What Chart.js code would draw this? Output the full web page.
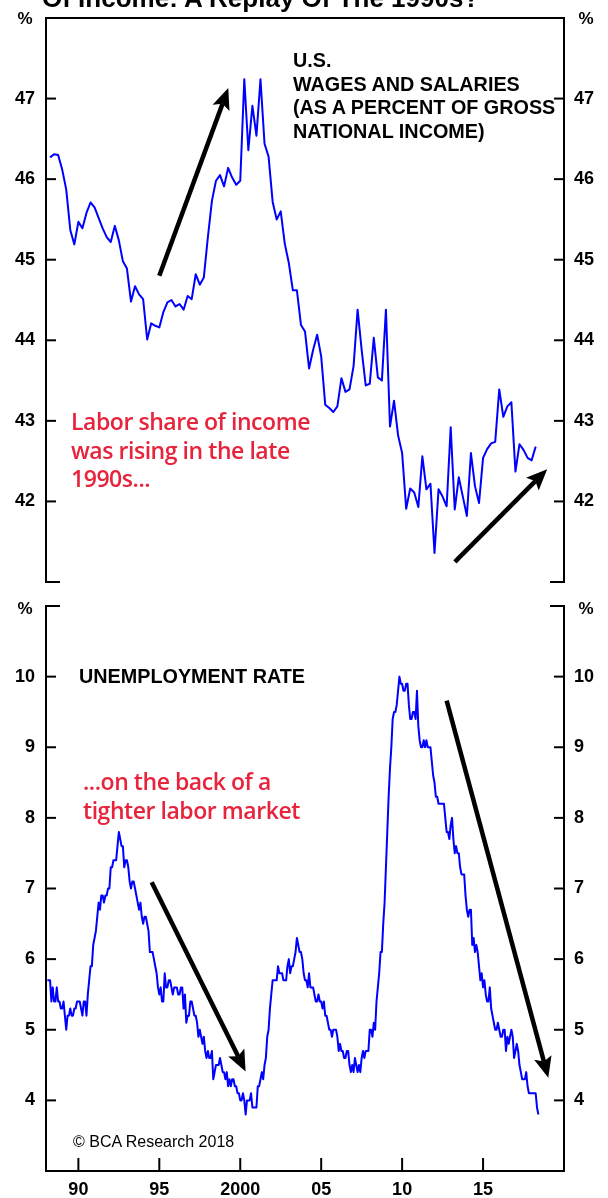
<!DOCTYPE html>
<html><head><meta charset="utf-8">
<script src="https://cdn.jsdelivr.net/npm/chart.js@4.4.1/dist/chart.umd.min.js"></script>
<style>
html,body{margin:0;padding:0;background:#fff;}
#wrap{position:relative;width:608px;height:1198px;overflow:hidden;background:#fff;}
canvas{position:absolute;left:0;}
.t{position:absolute;white-space:nowrap;color:#000;font-family:'Liberation Sans',Arial,sans-serif;}
.b{font-weight:bold;}
.cap{font-size:19.8px;line-height:23.5px;font-weight:bold;}
.pct{font-size:17px;line-height:20px;font-weight:bold;width:30px;text-align:center;}
.red{color:#e8233c;font-family:'Open Sans',sans-serif;font-weight:600;font-size:23px;line-height:28.5px;letter-spacing:-0.45px;}
</style></head><body>
<div id="wrap">
<canvas id="topChart" width="608" height="590" style="top:0"></canvas>
<canvas id="botChart" width="608" height="608" style="top:590px"></canvas>

<div class="t b" style="left:42px;top:-15px;font-size:26px;line-height:26px;">Of Income: A Replay Of The 1990s?</div>

<div class="t pct" style="left:10px;top:9px;">%</div>
<div class="t pct" style="left:571px;top:9px;">%</div>
<div class="t pct" style="left:10px;top:599px;">%</div>
<div class="t pct" style="left:571px;top:599px;">%</div>

<div class="t cap" style="left:293px;top:49px;">U.S.<br>WAGES AND SALARIES<br>(AS A PERCENT OF GROSS<br>NATIONAL INCOME)</div>
<div class="t cap" style="left:79px;top:665px;">UNEMPLOYMENT RATE</div>

<div class="t red" style="left:71px;top:407px;">Labor share of income<br>was rising in the late<br>1990s...</div>
<div class="t red" style="left:83px;top:767px;">...on the back of a<br>tighter labor market</div>

<div class="t" style="left:73px;top:1133px;font-size:16px;line-height:18px;">© BCA Research 2018</div>
</div>

<script>
// ---- axes ----
const xMin = 1988, xMax = 2020;
const xTickYears = [1990, 1995, 2000, 2005, 2010, 2015];
const xTickLabels = ['90', '95', '2000', '05', '10', '15'];
const wageRange = [41, 48];
const wageTicks = [42, 43, 44, 45, 46, 47];
const unempRange = [3, 11];
const unempTicks = [4, 5, 6, 7, 8, 9, 10];

// ---- wages & salaries as % of GNI, quarterly from 1988Q1 ----
const wageFirstYear = 1988;
const wageShare = [
  46.27, 46.31, 46.30, 46.12,
  45.87, 45.37, 45.19, 45.47,
  45.39, 45.58, 45.71, 45.65,
  45.52, 45.39, 45.28, 45.22,
  45.42, 45.24, 44.98, 44.89,
  44.48, 44.67, 44.57, 44.51,
  44.01, 44.21, 44.18, 44.16,
  44.35, 44.47, 44.50, 44.42,
  44.45, 44.38, 44.55, 44.51,
  44.82, 44.69, 44.78, 45.28,
  45.73, 45.98, 46.05, 45.91,
  46.14, 46.02, 45.93, 45.98,
  47.24, 46.36, 46.91, 46.54,
  47.24, 46.44, 46.28, 45.72,
  45.50, 45.60, 45.20, 44.96,
  44.62, 44.62, 44.19, 44.11,
  43.65, 43.88, 44.07, 43.80,
  43.20, 43.16, 43.11, 43.18,
  43.53, 43.36, 43.39, 43.68,
  44.38, 43.88, 43.44, 43.46,
  44.03, 43.54, 43.50, 44.38,
  42.93, 43.25, 42.82, 42.60,
  41.91, 42.16, 42.11, 41.93,
  42.56, 42.15, 42.22, 41.36,
  42.15, 42.06, 41.94, 42.92,
  41.90, 42.30, 42.06, 41.82,
  42.60, 42.19, 41.98, 42.54,
  42.65, 42.72, 42.74, 43.39,
  43.05, 43.18, 43.23, 42.37,
  42.71, 42.64, 42.54, 42.51,
  42.68
];

// ---- unemployment rate, monthly from January 1988 ----
const unempFirstYear = 1988;
const unemploymentRate = [
  5.7,5.7,5.7,5.4,5.6,5.4,5.4,5.6,5.4,5.4,5.3,5.3,
  5.4,5.2,5.0,5.2,5.2,5.3,5.2,5.2,5.3,5.3,5.4,5.4,
  5.4,5.3,5.2,5.4,5.4,5.2,5.5,5.7,5.9,5.9,6.2,6.3,
  6.4,6.6,6.8,6.7,6.9,6.9,6.8,6.9,6.9,7.0,7.0,7.3,
  7.3,7.4,7.4,7.4,7.6,7.8,7.7,7.6,7.6,7.3,7.4,7.4,
  7.3,7.1,7.0,7.1,7.1,7.0,6.9,6.8,6.7,6.8,6.6,6.5,
  6.6,6.6,6.5,6.4,6.1,6.1,6.1,6.0,5.9,5.8,5.6,5.5,
  5.6,5.4,5.4,5.8,5.6,5.6,5.7,5.7,5.6,5.5,5.6,5.6,
  5.6,5.5,5.5,5.6,5.6,5.3,5.5,5.1,5.2,5.2,5.4,5.4,
  5.3,5.2,5.2,5.1,4.9,5.0,4.9,4.8,4.9,4.7,4.6,4.7,
  4.6,4.6,4.7,4.3,4.4,4.5,4.5,4.5,4.6,4.5,4.4,4.4,
  4.3,4.4,4.2,4.3,4.2,4.3,4.3,4.2,4.2,4.1,4.1,4.0,
  4.0,4.1,4.0,3.8,4.0,4.0,4.0,4.1,3.9,3.9,3.9,3.9,
  4.2,4.2,4.3,4.4,4.3,4.5,4.6,4.9,5.0,5.3,5.5,5.7,
  5.7,5.7,5.7,5.9,5.8,5.8,5.8,5.7,5.7,5.7,5.9,6.0,
  5.8,5.9,5.9,6.0,6.1,6.3,6.2,6.1,6.1,6.0,5.8,5.7,
  5.7,5.6,5.8,5.6,5.6,5.6,5.5,5.4,5.4,5.5,5.4,5.4,
  5.3,5.4,5.2,5.2,5.1,5.0,5.0,4.9,5.0,5.0,5.0,4.9,
  4.7,4.8,4.7,4.7,4.6,4.6,4.7,4.7,4.5,4.4,4.5,4.4,
  4.6,4.5,4.4,4.5,4.4,4.6,4.7,4.6,4.7,4.7,4.7,5.0,
  5.0,4.9,5.1,5.0,5.4,5.6,5.8,6.1,6.1,6.5,6.8,7.3,
  7.8,8.3,8.7,9.0,9.4,9.5,9.5,9.6,9.8,10.0,9.9,9.9,
  9.8,9.8,9.9,9.9,9.6,9.4,9.4,9.5,9.5,9.4,9.8,9.3,
  9.1,9.0,9.0,9.1,9.0,9.1,9.0,9.0,9.0,8.8,8.6,8.5,
  8.3,8.3,8.2,8.2,8.2,8.2,8.2,8.0,7.8,7.8,7.7,7.9,
  8.0,7.7,7.5,7.6,7.5,7.5,7.3,7.2,7.2,7.2,6.9,6.7,
  6.6,6.7,6.7,6.2,6.3,6.1,6.2,6.1,5.9,5.7,5.8,5.6,
  5.7,5.5,5.4,5.4,5.6,5.3,5.2,5.1,5.0,5.0,5.1,5.0,
  4.9,4.9,5.0,5.0,4.7,4.9,4.8,4.9,5.0,4.9,4.6,4.7,
  4.8,4.7,4.5,4.4,4.3,4.3,4.3,4.4,4.2,4.1,4.1,4.1,
  4.1,4.1,4.1,3.9,3.8
];

// ---- annotation arrows (data coordinates: from x,y to x,y) ----
const wageArrows = [[1995.0, 44.80, 1999.26, 47.13], [2013.26, 41.25, 2018.96, 42.40]];
const unempArrows = [[1994.53, 7.09, 2000.33, 4.41], [2012.75, 9.66, 2019.03, 4.32]];

const wagePoints = wageShare.map((v, i) => ({x: wageFirstYear + (i + 1) / 4, y: v}));
const unempPoints = unemploymentRate.map((v, i) => ({x: unempFirstYear + (i + 1) / 12, y: v}));

const FONT = "'Liberation Sans', Arial, sans-serif";

function yScale(pos, range, ticks, width, pad) {
  return {
    type: 'linear', position: pos, min: range[0], max: range[1],
    afterBuildTicks: s => { s.ticks = ticks.map(v => ({value: v})); },
    afterFit: s => { s.width = width; s.paddingTop = 0; s.paddingBottom = 0; },
    grid: {display: false, drawTicks: false},
    border: {display: false},
    ticks: {color: '#000', padding: pad, font: {family: FONT, weight: 'bold', size: 18}, callback: v => String(v)}
  };
}

function makeFrame(cfg) {
  return {
    id: 'frame_' + cfg.name,
    afterDatasetsDraw(chart) {
      const {ctx, chartArea: a, scales} = chart;
      ctx.save();
      ctx.strokeStyle = '#000';
      ctx.fillStyle = '#000';
      ctx.lineWidth = 2;
      ctx.lineCap = 'butt';
      const line = (x1, y1, x2, y2) => { ctx.beginPath(); ctx.moveTo(x1, y1); ctx.lineTo(x2, y2); ctx.stroke(); };
      line(a.left, a.top - 1, a.left, a.bottom + 1);
      line(a.right, a.top - 1, a.right, a.bottom + 1);
      const stub = 14;
      if (cfg.topFull) line(a.left - 1, a.top, a.right + 1, a.top);
      else { line(a.left - 1, a.top, a.left + stub, a.top); line(a.right - stub, a.top, a.right + 1, a.top); }
      if (cfg.bottomFull) line(a.left - 1, a.bottom, a.right + 1, a.bottom);
      else { line(a.left - 1, a.bottom, a.left + stub, a.bottom); line(a.right - stub, a.bottom, a.right + 1, a.bottom); }
      cfg.yTicks.forEach(v => {
        const y = scales.y.getPixelForValue(v);
        line(a.left, y, a.left + 10, y);
        line(a.right - 10, y, a.right, y);
      });
      if (cfg.xTicks) cfg.xTicks.forEach(v => {
        const x = scales.x.getPixelForValue(v);
        line(x, a.bottom, x, a.bottom - 13);
      });
      cfg.arrows.forEach(([x1, y1, x2, y2]) => {
        const p1x = scales.x.getPixelForValue(x1), p1y = scales.y.getPixelForValue(y1);
        const p2x = scales.x.getPixelForValue(x2), p2y = scales.y.getPixelForValue(y2);
        const ang = Math.atan2(p2y - p1y, p2x - p1x);
        const c = Math.cos(ang), s = Math.sin(ang);
        const hl = 21, hw = 9;
        const bx = p2x - hl * c, by = p2y - hl * s;
        const nx = p2x - hl * 0.8 * c, ny = p2y - hl * 0.8 * s;
        ctx.lineWidth = 4.5;
        line(p1x, p1y, nx, ny);
        ctx.beginPath();
        ctx.moveTo(p2x, p2y);
        ctx.lineTo(bx + hw * s, by - hw * c);
        ctx.lineTo(nx, ny);
        ctx.lineTo(bx - hw * s, by + hw * c);
        ctx.closePath();
        ctx.fill();
      });
      ctx.restore();
    }
  };
}

const lineStyle = {borderColor: '#0000ff', borderWidth: 2, pointRadius: 0, fill: false, tension: 0, borderJoinStyle: 'round'};

new Chart(document.getElementById('topChart'), {
  type: 'line',
  data: {datasets: [Object.assign({data: wagePoints, yAxisID: 'y'}, lineStyle)]},
  options: {
    responsive: false, animation: false, devicePixelRatio: 1,
    layout: {padding: {top: 18, bottom: 8, left: 0, right: 0}},
    plugins: {legend: {display: false}, tooltip: {enabled: false}},
    scales: {
      x: {type: 'linear', min: xMin, max: xMax, display: false},
      y: yScale('left', wageRange, wageTicks, 46, 11),
      y2: yScale('right', wageRange, wageTicks, 44, 10)
    }
  },
  plugins: [makeFrame({name: 'top', topFull: true, bottomFull: false, yTicks: wageTicks, xTicks: null, arrows: wageArrows})]
});

new Chart(document.getElementById('botChart'), {
  type: 'line',
  data: {datasets: [Object.assign({data: unempPoints, yAxisID: 'y'}, lineStyle)]},
  options: {
    responsive: false, animation: false, devicePixelRatio: 1,
    layout: {padding: {top: 16, bottom: 0, left: 0, right: 0}},
    plugins: {legend: {display: false}, tooltip: {enabled: false}},
    scales: {
      x: {
        type: 'linear', min: xMin, max: xMax, position: 'bottom',
        afterBuildTicks: s => { s.ticks = xTickYears.map(v => ({value: v})); },
        afterFit: s => { s.height = 27; s.paddingLeft = 0; s.paddingRight = 0; },
        grid: {display: false, drawTicks: false},
        border: {display: false},
        ticks: {color: '#000', padding: 8, maxRotation: 0, autoSkip: false,
          font: {family: FONT, weight: 'bold', size: 18},
          callback: (v, i) => xTickLabels[i]}
      },
      y: yScale('left', unempRange, unempTicks, 46, 11),
      y2: yScale('right', unempRange, unempTicks, 44, 10)
    }
  },
  plugins: [makeFrame({name: 'bot', topFull: false, bottomFull: true, yTicks: unempTicks, xTicks: xTickYears, arrows: unempArrows})]
});
</script>
</body></html>
